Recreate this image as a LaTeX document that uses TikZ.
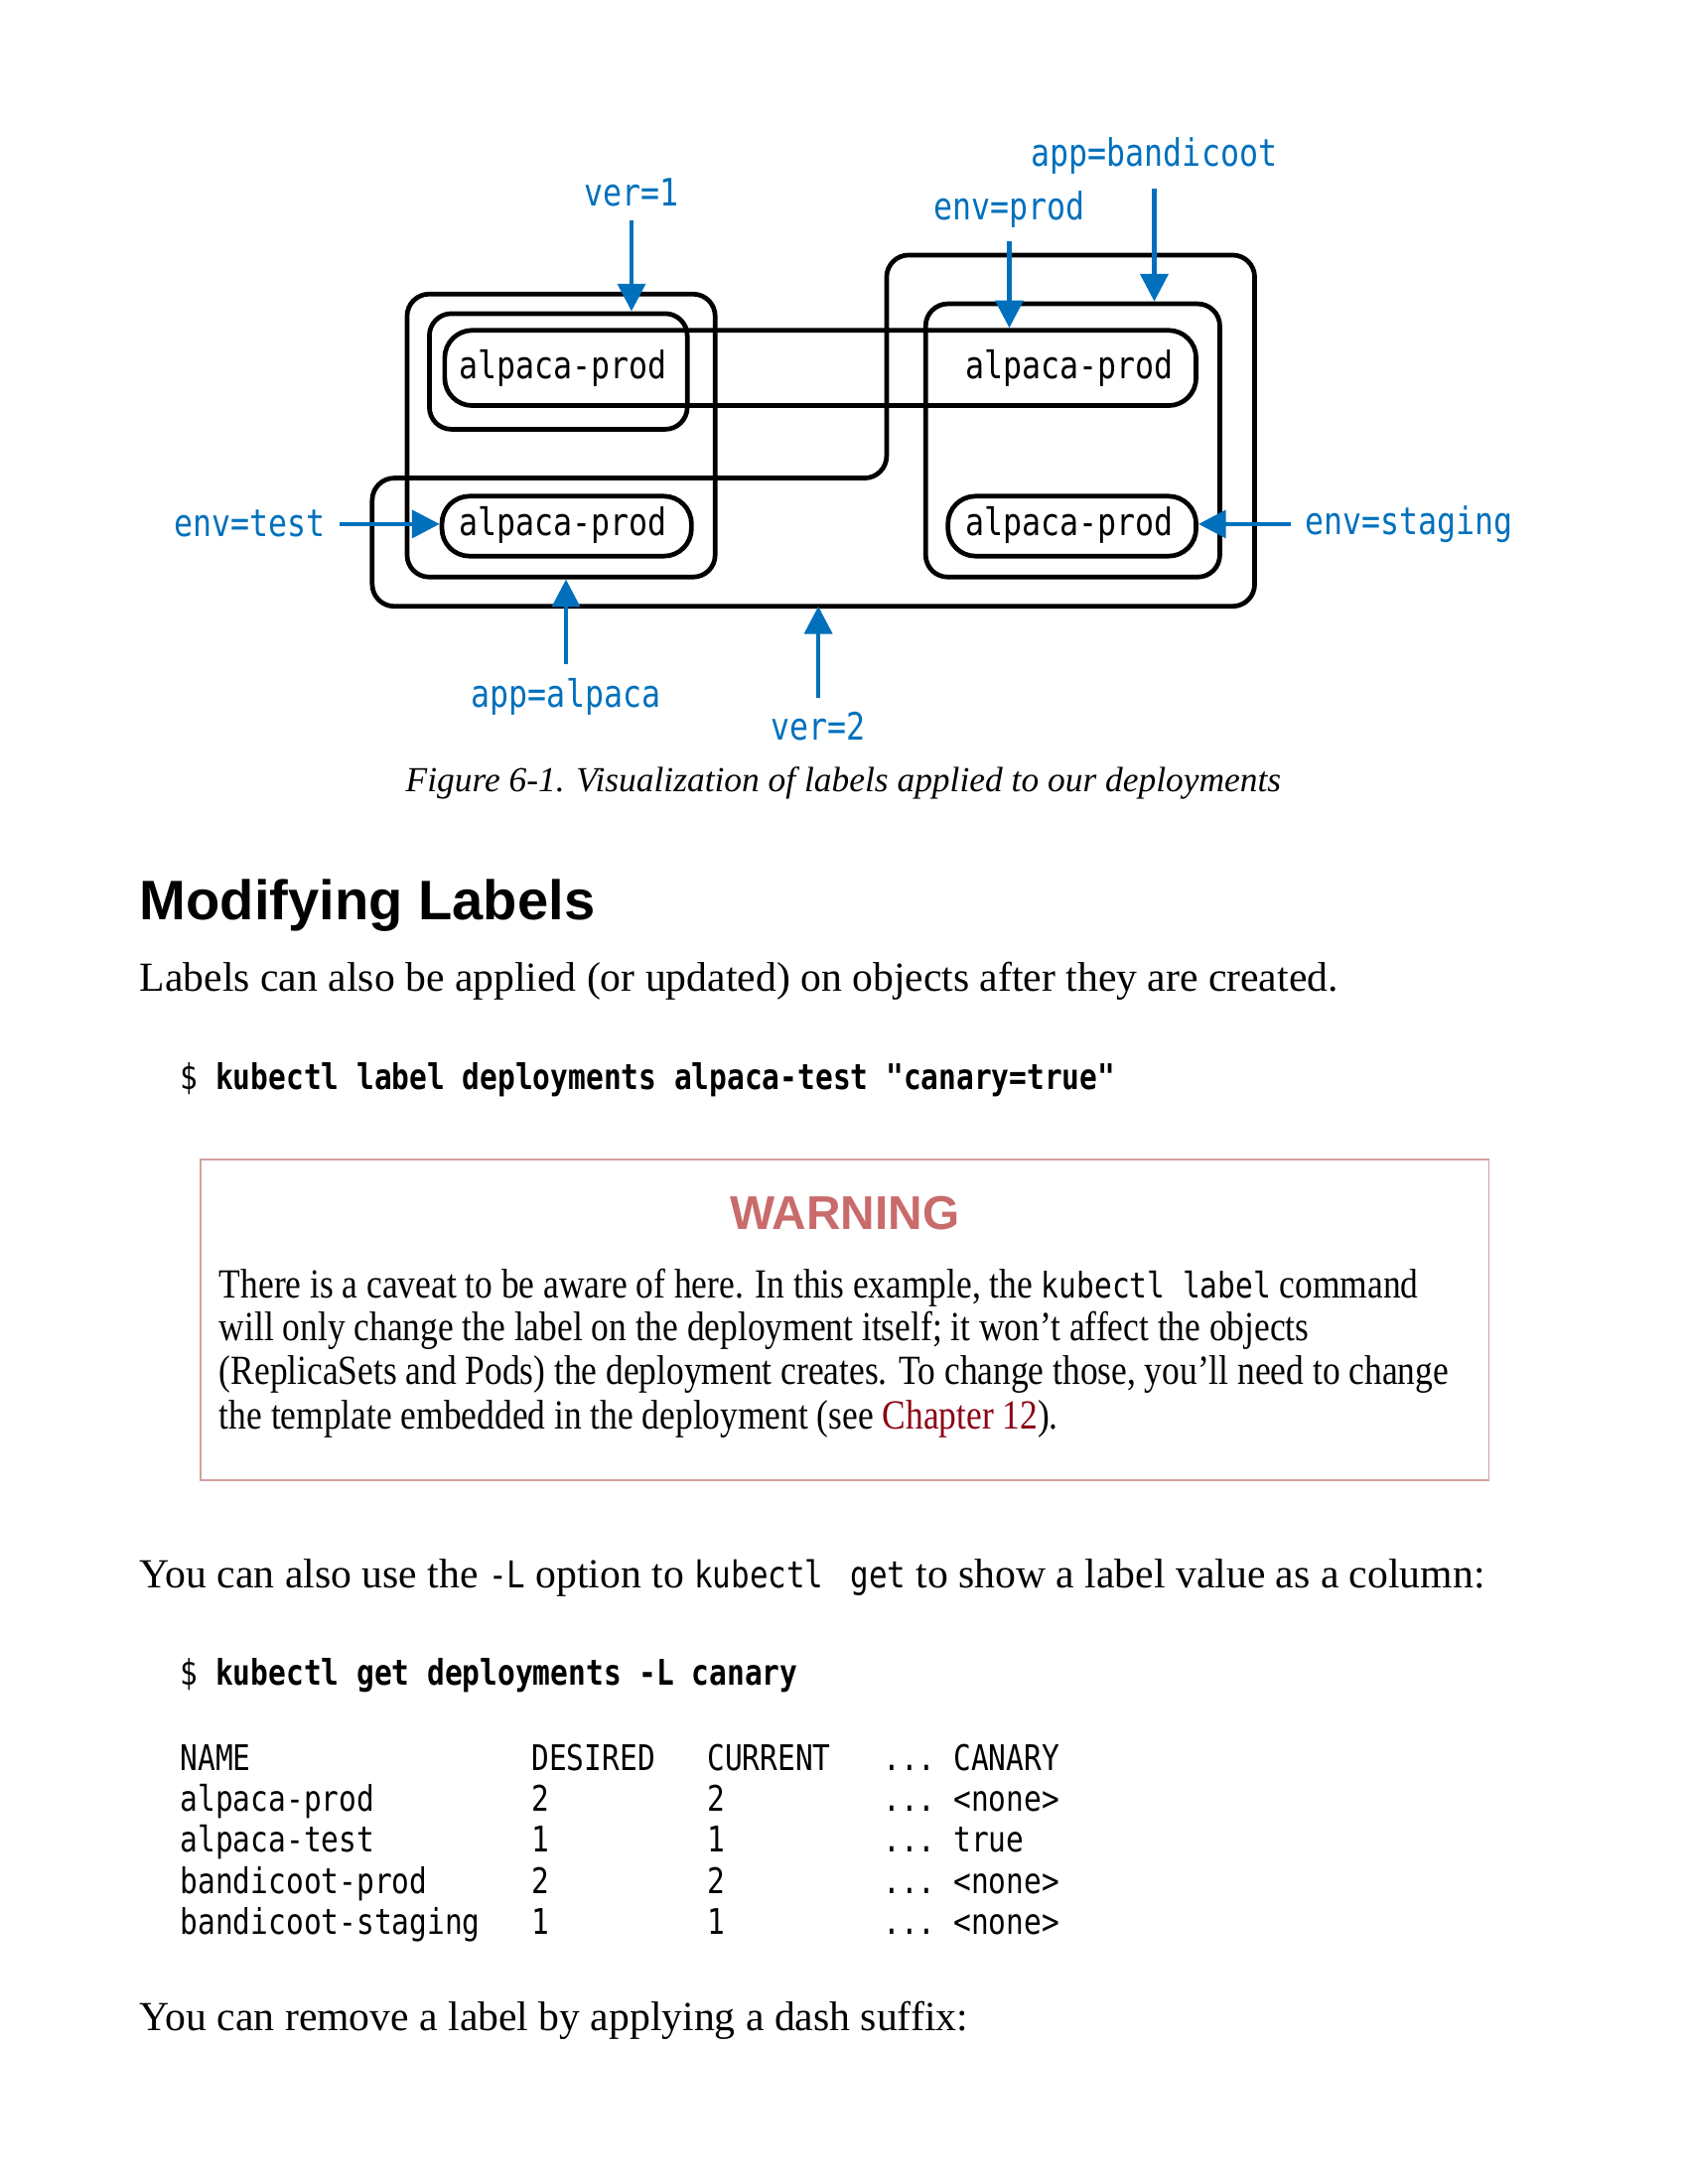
\documentclass[tikz,border=0pt]{standalone}
\usepackage{fontspec}
\setmainfont{Liberation Serif}
\setsansfont{Liberation Sans}
\setmonofont[FakeStretch=0.83]{DejaVu Sans Mono}
\newfontfamily\warnserif[FakeStretch=0.85]{Liberation Serif}
\usepackage{xcolor}
\usetikzlibrary{arrows.meta}
\usetikzlibrary{fit}

\definecolor{kblue}{RGB}{0,112,188}
\definecolor{warnred}{RGB}{201,107,107}
\definecolor{warnline}{RGB}{212,160,160}
\definecolor{chapred}{RGB}{140,0,20}

\newcommand{\codeword}[2][12.8]{{\fontsize{#1}{14}\ttfamily #2}}

\tikzset{
  grp/.style={draw, line width=1.7pt, rounded corners=8pt, inner sep=0pt},
  pod/.style={draw, line width=1.7pt, rounded corners=10pt, inner sep=0pt},
  podtext/.style={font=\fontsize{13.7}{15}\ttfamily},
  lbl/.style={font=\fontsize{13.7}{15}\ttfamily, text=kblue, inner sep=1pt},
  lblarrow/.style={draw=kblue, line width=1.6pt, shorten <=4pt, -{Triangle[length=10pt,width=10pt]}},
  body/.style={anchor=base west, inner sep=0pt, font=\fontsize{15}{16}\selectfont},
  warnbody/.style={anchor=base west, inner sep=0pt, font=\fontsize{15}{16}\warnserif},
  code/.style={anchor=base west, inner sep=0pt, font=\fontsize{12.8}{14}\ttfamily},
}

\begin{document}
\begin{tikzpicture}[x=0.5054pt, y=-0.5054pt]
\useasboundingbox (0,0) rectangle (1211,1567);

% label sets
\node [grp, fit={(292,211) (513,414)}] (alpacabox) {};
\node [grp, fit={(308,225) (493,308)}] (verbox) {};
\node [pod, fit={(319,237) (858,291)}] (prodpods) {};
\draw [line width=1.7pt, rounded corners=8pt]
      (267,343) -- (636,343) -- (636,183) -- (900,183) -- (900,435) -- (267,435) -- cycle;
\coordinate (vertwo) at (584,435);
\node [grp, fit={(664,218) (875,414)}] (bandicootbox) {};
\node [pod, fit={(317,356) (496,399)}] (testpod) {};
\node [pod, fit={(680,356) (858,399)}] (stagingpod) {};

% pods
\node [podtext] (alpacaprod) at (404,264) {alpaca-prod};
\node [podtext] (bandicootprod) at (767,264) {alpaca-prod};
\node [podtext] (alpacatest) at (404,377) {alpaca-prod};
\node [podtext] (bandicootstaging) at (767,377) {alpaca-prod};

% labels
\node [lbl] (verone) at (453,138) {ver=1};
\node [lbl] (envprod) at (724,150) {env=prod};
\node [lbl] (appbandicoot) at (828,112) {app=bandicoot};
\node [lbl] (envtest) at (179,376) {env=test};
\node [lbl] (envstaging) at (1011,376) {env=staging};
\node [lbl] (appalpaca) at (406,500) {app=alpaca};
\node [lbl] (verthree) at (587,521) {ver=2};

\draw [lblarrow] (verone.south) -- (verone.south |- verbox.north);
\draw [lblarrow] (envprod.south) -- (envprod.south |- prodpods.north);
\draw [lblarrow] (appbandicoot.south) -- (appbandicoot.south |- bandicootbox.north);
\draw [lblarrow] (envtest.east) -- (envtest.east -| testpod.west);
\draw [lblarrow] (envstaging.west) -- (envstaging.west -| stagingpod.east);
\draw [lblarrow] (appalpaca.north) -- (appalpaca.north |- alpacabox.south);
\draw [lblarrow] (verthree.north) -- (verthree.north |- vertwo);

\node [font=\fontsize{12.75}{15}\selectfont\itshape] (caption) at (605,562)
      {Figure 6-1. Visualization of labels applied to our deployments};

% page text
\node [anchor=base west, inner sep=0pt, font=\fontsize{20.2}{22}\sffamily\bfseries]
      (heading) at (100,660) {Modifying Labels};
\node [body] (intro) at (100,711)
      {Labels can also be applied (or updated) on objects after they are created.};
\node [code] (cmdlabel) at (129,782)
      {\$ \textbf{kubectl label deployments alpaca-test "canary=true"}};

\node [draw=warnline, line width=0.6pt, inner sep=0pt, fit={(144,832) (1068,1062)}] (warnbox) {};
\node [anchor=base, inner sep=0pt, font=\fontsize{17.2}{18}\sffamily\bfseries, text=warnred]
      (warntitle) at (606,882) {WARNING};
\node [warnbody] (warnone) at (157,931)
      {There is a caveat to be aware of here. In this example, the \codeword{kubectl label} command};
\node [warnbody] (warntwo) at (157,962)
      {will only change the label on the deployment itself; it won’t affect the objects};
\node [warnbody] (warnthree) at (157,993)
      {(ReplicaSets and Pods) the deployment creates. To change those, you’ll need to change};
\node [warnbody] (warnfour) at (157,1025)
      {the template embedded in the deployment (see \textcolor{chapred}{Chapter 12}).};

\node [body] (option) at (100,1139)
      {You can also use the \codeword[13.4]{-L} option to \codeword[13.4]{kubectl\ \kern3pt get} to show a label value as a column:};
\node [code] (cmdget) at (129,1209)
      {\$ \textbf{kubectl get deployments -L canary}};

% output table
\foreach \nm/\des/\cur/\can [count=\r] in
  {NAME/DESIRED/CURRENT/CANARY, alpaca-prod/2/2/<none>, alpaca-test/1/1/true,
   bandicoot-prod/2/2/<none>, bandicoot-staging/1/1/<none>}
{
  \node [code] (name\r) at (129,{1270+29.5*(\r-1)}) {\nm};
  \node [code] (des\r) at (381,{1270+29.5*(\r-1)}) {\des};
  \node [code] (cur\r) at (507,{1270+29.5*(\r-1)}) {\cur};
  \node [code] (can\r) at (633,{1270+29.5*(\r-1)}) {... \can};
}

\node [body] (remove) at (100,1457) {You can remove a label by applying a dash suffix:};
\end{tikzpicture}
\end{document}
